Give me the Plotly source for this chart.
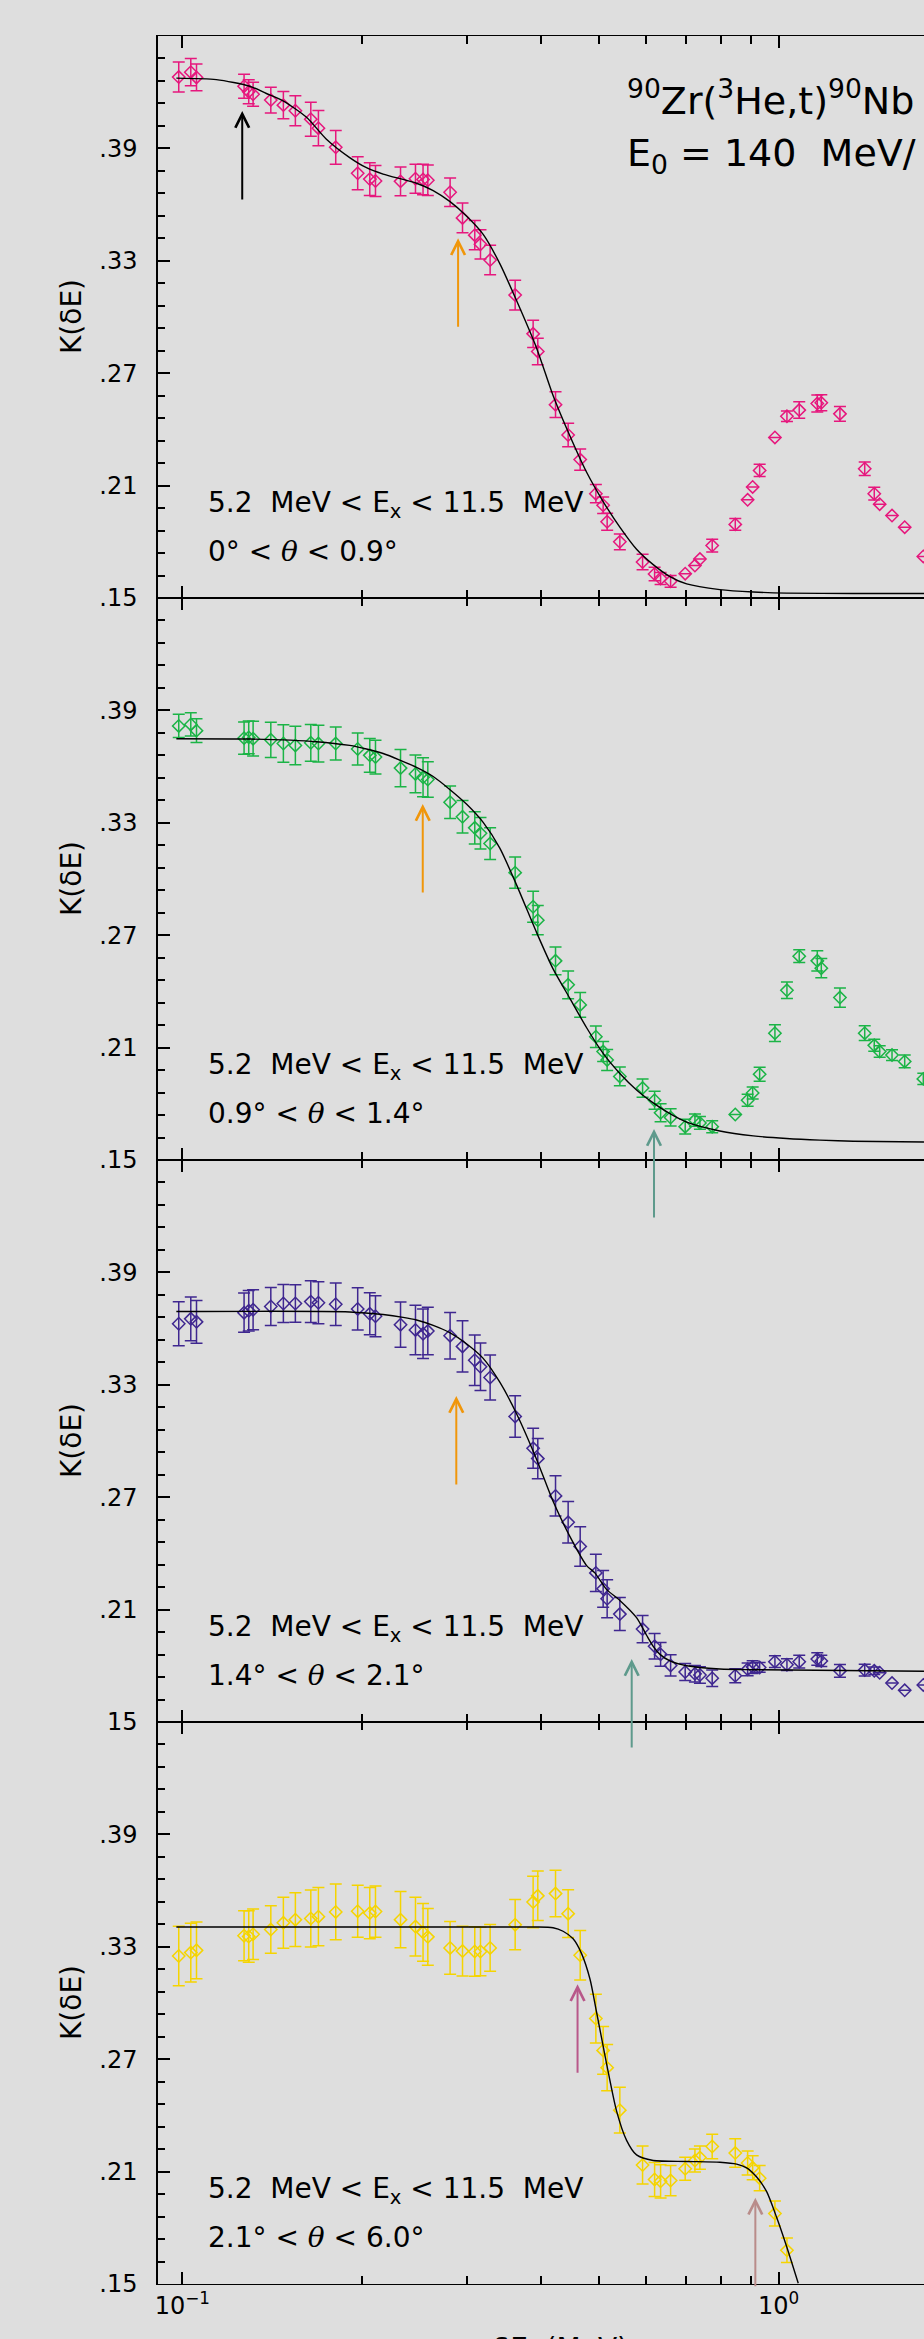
import numpy as np
import plotly.graph_objects as go

# ---------------- data ----------------
dE = [0.0986, 0.1033, 0.1056, 0.1269, 0.1292, 0.1314, 0.1407, 0.1477, 0.1547, 0.1642,
      0.1691, 0.1808, 0.1968, 0.2062, 0.2108, 0.2322, 0.2460, 0.2533, 0.2580, 0.2812,
      0.2950, 0.3093, 0.3162, 0.3282, 0.3615, 0.3875, 0.3945, 0.4225, 0.4436, 0.4647,
      0.4937, 0.5078, 0.5157, 0.5416, 0.5913, 0.6194, 0.6339, 0.6589, 0.6971, 0.7238,
      0.7379, 0.7737, 0.8458, 0.8872, 0.9046, 0.9293, 0.9858, 1.0326, 1.0828, 1.1610,
      1.1791, 1.2671, 1.3944, 1.4467, 1.4773, 1.5494, 1.6272, 1.7485]

K1 = [0.4281, 0.4307, 0.4279, 0.4232, 0.4203, 0.4189, 0.4158, 0.4131, 0.4101, 0.4056,
      0.4008, 0.3906, 0.3767, 0.3736, 0.3726, 0.3724, 0.3738, 0.3734, 0.3730, 0.3666,
      0.3529, 0.3437, 0.3388, 0.3304, 0.3117, 0.2910, 0.2816, 0.2532, 0.2370, 0.2239,
      0.2057, 0.1995, 0.1907, 0.1800, 0.1692, 0.1628, 0.1604, 0.1589, 0.1630, 0.1673,
      0.1708, 0.1780, 0.1893, 0.2024, 0.2093, 0.2181, 0.2357, 0.2470, 0.2503, 0.2538,
      0.2542, 0.2483, 0.2190, 0.2057, 0.2001, 0.1940, 0.1878, 0.1722]
E1 = [0.0080, 0.0073, 0.0071, 0.0064, 0.0064, 0.0064, 0.0069, 0.0073, 0.0080, 0.0091,
      0.0094, 0.0090, 0.0088, 0.0087, 0.0083, 0.0077, 0.0078, 0.0082, 0.0081, 0.0076,
      0.0079, 0.0078, 0.0078, 0.0079, 0.0079, 0.0073, 0.0071, 0.0069, 0.0063, 0.0057,
      0.0049, 0.0044, 0.0046, 0.0042, 0.0041, 0.0036, 0.0032, 0.0031, None, None,
      None, 0.0034, 0.0031, None, None, 0.0033, None, 0.0028, 0.0044, 0.0045,
      0.0043, 0.0039, 0.0036, 0.0034, None, None, None, None]

K2 = [0.3817, 0.3825, 0.3792, 0.3752, 0.3756, 0.3749, 0.3743, 0.3723, 0.3713, 0.3727,
      0.3723, 0.3723, 0.3694, 0.3660, 0.3651, 0.3592, 0.3561, 0.3543, 0.3531, 0.3410,
      0.3332, 0.3273, 0.3244, 0.3189, 0.3034, 0.2852, 0.2780, 0.2563, 0.2435, 0.2328,
      0.2158, 0.2079, 0.2034, 0.1946, 0.1884, 0.1819, 0.1752, 0.1727, 0.1678, 0.1713,
      0.1698, 0.1678, 0.1743, 0.1819, 0.1858, 0.1958, 0.2177, 0.2406, 0.2588, 0.2563,
      0.2524, 0.2367, 0.2177, 0.2112, 0.2079, 0.2060, 0.2026, 0.1933]
E2 = [0.0062, 0.0062, 0.0063, 0.0086, 0.0088, 0.0093, 0.0094, 0.0100, 0.0103, 0.0098,
      0.0098, 0.0088, 0.0086, 0.0090, 0.0090, 0.0099, 0.0101, 0.0104, 0.0095, 0.0087,
      0.0087, 0.0086, 0.0084, 0.0085, 0.0083, 0.0083, 0.0078, 0.0074, 0.0074, 0.0066,
      0.0057, 0.0053, 0.0056, 0.0050, 0.0049, 0.0048, 0.0048, 0.0046, 0.0039, 0.0033,
      0.0034, 0.0032, None, 0.0032, 0.0032, 0.0037, 0.0045, 0.0044, 0.0034, 0.0054,
      0.0051, 0.0051, 0.0039, 0.0032, 0.0031, 0.0029, 0.0034, 0.0030]

K3 = [0.3626, 0.3652, 0.3636, 0.3685, 0.3695, 0.3701, 0.3718, 0.3734, 0.3734, 0.3744,
      0.3738, 0.3730, 0.3705, 0.3679, 0.3666, 0.3621, 0.3593, 0.3572, 0.3587, 0.3562,
      0.3505, 0.3431, 0.3396, 0.3339, 0.3131, 0.2961, 0.2906, 0.2707, 0.2566, 0.2437,
      0.2296, 0.2211, 0.2158, 0.2076, 0.1996, 0.1904, 0.1861, 0.1802, 0.1767, 0.1757,
      0.1751, 0.1734, 0.1747, 0.1781, 0.1793, 0.1791, 0.1822, 0.1806, 0.1822, 0.1836,
      0.1826, 0.1773, 0.1777, 0.1773, 0.1763, 0.1708, 0.1669, 0.1698]
E3 = [0.0117, 0.0117, 0.0114, 0.0105, 0.0108, 0.0107, 0.0102, 0.0101, 0.0100, 0.0111,
      0.0112, 0.0113, 0.0113, 0.0112, 0.0110, 0.0121, 0.0132, 0.0132, 0.0127, 0.0124,
      0.0137, 0.0135, 0.0127, 0.0120, 0.0111, 0.0107, 0.0108, 0.0108, 0.0111, 0.0105,
      0.0100, 0.0098, 0.0102, 0.0088, 0.0073, 0.0068, 0.0064, 0.0057, 0.0045, 0.0044,
      0.0044, 0.0044, 0.0037, 0.0034, 0.0034, 0.0026, 0.0031, 0.0031, 0.0034, 0.0033,
      0.0030, 0.0034, 0.0031, 0.0020, None, None, None, None]

K4 = [0.3251, 0.3269, 0.3281, 0.3359, 0.3355, 0.3367, 0.3392, 0.3428, 0.3445, 0.3451,
      0.3461, 0.3486, 0.3490, 0.3480, 0.3488, 0.3445, 0.3408, 0.3377, 0.3353, 0.3294,
      0.3277, 0.3275, 0.3275, 0.3294, 0.3418, 0.3539, 0.3572, 0.3584, 0.3477, 0.3255,
      0.2917, 0.2747, 0.2655, 0.2428, 0.2135, 0.2058, 0.2048, 0.2052, 0.2115, 0.2159,
      0.2175, 0.2234, 0.2199, 0.2146, 0.2120, 0.2065, 0.1876, 0.1680]
E4 = [0.0159, 0.0157, 0.0152, 0.0134, 0.0137, 0.0135, 0.0127, 0.0136, 0.0143, 0.0152,
      0.0156, 0.0149, 0.0139, 0.0137, 0.0137, 0.0150, 0.0157, 0.0154, 0.0152, 0.0141,
      0.0133, 0.0132, 0.0130, 0.0125, 0.0134, 0.0137, 0.0132, 0.0124, 0.0128, 0.0132,
      0.0130, 0.0127, 0.0124, 0.0122, 0.0101, 0.0091, 0.0089, 0.0081, 0.0061, 0.0061,
      0.0062, 0.0066, 0.0076, 0.0064, 0.0064, 0.0067, 0.0067, 0.0065]

# fitted curves
fit1_x = [0.0977, 0.114, 0.1297, 0.1383, 0.1475, 0.1615, 0.1744, 0.1908, 0.2036, 0.2171,
          0.2470, 0.2634, 0.2808, 0.2995, 0.3195, 0.3407, 0.3633, 0.3926, 0.4185, 0.4465,
          0.4764, 0.5078, 0.5416, 0.5777, 0.6161, 0.6572, 0.7010, 0.7969, 0.9066, 1.0313,
          1.3341, 1.753]
fit1_y = [0.4275, 0.4267, 0.4232, 0.4193, 0.4154, 0.4066, 0.3949, 0.3851, 0.3797, 0.3763,
          0.3714, 0.3675, 0.3617, 0.3539, 0.3441, 0.3285, 0.3089, 0.2835, 0.2581, 0.2366,
          0.2171, 0.2015, 0.1878, 0.1760, 0.1678, 0.1614, 0.1575, 0.1545, 0.1532, 0.1526,
          0.1524, 0.1524]
fit2_x = [0.0977, 0.1297, 0.1678, 0.1908, 0.2036, 0.2171, 0.2315, 0.2470, 0.2634, 0.2808,
          0.2995, 0.3195, 0.3407, 0.3633, 0.3926, 0.4185, 0.4465, 0.4764, 0.5078, 0.5416,
          0.5777, 0.6161, 0.6572, 0.7010, 0.7969, 0.9066, 1.0313, 1.173, 1.3341, 1.753]
fit2_y = [0.3749, 0.3747, 0.3733, 0.3713, 0.3694, 0.3670, 0.3635, 0.3596, 0.3547, 0.3478,
          0.3400, 0.3302, 0.3165, 0.2970, 0.2715, 0.2520, 0.2363, 0.2206, 0.2069, 0.1962,
          0.1874, 0.1805, 0.1747, 0.1702, 0.1655, 0.1629, 0.1615, 0.1606, 0.1600, 0.1596]
fit3_x = [0.0977, 0.1908, 0.2171, 0.2345, 0.2470, 0.2634, 0.2808, 0.2995, 0.3195, 0.3407,
          0.3633, 0.3926, 0.4185, 0.4465, 0.4764, 0.4918, 0.5144, 0.5416, 0.5777, 0.6005,
          0.6161, 0.6324, 0.6572, 0.7010, 0.7969, 0.9066, 1.753]
fit3_y = [0.3691, 0.3689, 0.3675, 0.3660, 0.3646, 0.3617, 0.3578, 0.3519, 0.3441, 0.3314,
          0.3147, 0.2903, 0.2678, 0.2491, 0.2335, 0.2296, 0.2208, 0.2149, 0.2057, 0.1963,
          0.1904, 0.1861, 0.1826, 0.1800, 0.1783, 0.1779, 0.1771]
fit4_x = [0.0977, 0.3875, 0.4185, 0.4350, 0.4522, 0.4670, 0.4826, 0.4950, 0.5144, 0.5347,
          0.5559, 0.5777, 0.6161, 0.7010, 0.7969, 0.8503, 0.8838, 0.9187, 0.9548, 0.9922,
          1.0313, 1.0787]
fit4_y = [0.3406, 0.3406, 0.3402, 0.3383, 0.3343, 0.3265, 0.3128, 0.2952, 0.2678, 0.2424,
          0.2267, 0.2189, 0.2159, 0.2154, 0.2150, 0.2140, 0.2120, 0.2071, 0.1993, 0.1856,
          0.1700, 0.1504]

panel_K = [K1, K2, K3, K4]
panel_E = [E1, E2, E3, E4]
panel_fit_x = [fit1_x, fit2_x, fit3_x, fit4_x]
panel_fit_y = [fit1_y, fit2_y, fit3_y, fit4_y]
panel_colors = ["#e6177d", "#1bb446", "#3f2790", "#f5d400"]
panel_theta = ["0° &lt; {t} &lt; 0.9°", "0.9° &lt; {t} &lt; 1.4°",
               "1.4° &lt; {t} &lt; 2.1°", "2.1° &lt; {t} &lt; 6.0°"]
ytick_vals = [0.15, 0.21, 0.27, 0.33, 0.39]
ytick_text = [[".15", ".21", ".27", ".33", ".39"],
              [".15", ".21", ".27", ".33", ".39"],
              ["15", ".21", ".27", ".33", ".39"],
              [".15", ".21", ".27", ".33", ".39"]]

# arrows: panel index, dE position, K value at the tip, colour
arrow_panel = [0, 0, 1, 1, 2, 2, 3, 3]
arrow_x = [0.126, 0.290, 0.253, 0.618, 0.288, 0.567, 0.460, 0.914]
arrow_tip = [0.410, 0.342, 0.340, 0.1665, 0.324, 0.1836, 0.310, 0.196]
arrow_color = ["#000000", "#f0960a", "#f0960a", "#5e9a8c", "#f0960a", "#5e9a8c",
               "#b8588a", "#b98c8a"]

# ---------------- figure ----------------
FONT = "DejaVu Sans"
BG = "#dedede"
W, H = 924, 2339
ML, MT, MB = 158, 36, 55
PW, PH = W - ML, H - MT - MB
xlo, xhi = -1.0409, 0.2438

fig = go.Figure()
layout = dict(
    width=W, height=H, margin=dict(l=ML, r=0, t=MT, b=MB, pad=0),
    paper_bgcolor=BG, plot_bgcolor=BG, showlegend=False,
    font=dict(family=FONT, color="black", size=24),
)

annotations = []
for k in range(4):
    sfx = "" if k == 0 else str(k + 1)
    xa, ya = "x" + sfx, "y" + sfx
    col = panel_colors[k]
    n = len(panel_K[k])
    fig.add_trace(go.Scatter(
        x=dE[:n], y=panel_K[k], mode="markers", xaxis=xa, yaxis=ya,
        marker=dict(symbol="diamond-open", size=9.5, color=col, line=dict(width=1.5, color=col)),
        error_y=dict(type="data", array=panel_E[k], visible=True, color=col,
                     thickness=1.5, width=6),
    ))
    fig.add_trace(go.Scatter(
        x=panel_fit_x[k], y=panel_fit_y[k], mode="lines", xaxis=xa, yaxis=ya,
        line=dict(color="black", width=1.4, shape="spline", smoothing=0.7),
    ))
    dom = [0.75 - 0.25 * k, 1.0 - 0.25 * k]
    layout["xaxis" + sfx] = dict(
        type="log", range=[xlo, xhi], domain=[0, 1], anchor=ya,
        showline=True, linecolor="black", linewidth=1.3, mirror="allticks",
        ticks="inside", tickvals=[0.1, 1], ticktext=["10<sup>−1</sup>", "10<sup>0</sup>"],
        ticklen=12, tickwidth=1.5, tickcolor="black",
        minor=dict(ticks="inside", tickmode="array",
                   tickvals=[0.2, 0.3, 0.4, 0.5, 0.6, 0.7, 0.8, 0.9],
                   ticklen=8, tickwidth=1.5, tickcolor="black"),
        showgrid=False, zeroline=False, showticklabels=(k == 3),
        tickfont=dict(family=FONT, size=24, color="black"),
    )
    layout["yaxis" + sfx] = dict(
        domain=dom, anchor=xa, range=[0.15, 0.45],
        showline=True, linecolor="black", linewidth=1.5, mirror=False,
        ticks="inside", tickvals=ytick_vals, ticktext=ytick_text[k],
        ticklen=12, tickwidth=1.5, tickcolor="black",
        minor=dict(ticks="inside", tickmode="linear", tick0=0.15, dtick=0.012,
                   ticklen=7, tickwidth=1.5, tickcolor="black"),
        showgrid=False, zeroline=False, ticklabelstandoff=14,
        tickfont=dict(family=FONT, size=24, color="black"),
    )
    # y axis title
    annotations.append(dict(
        text="K(δE)", xref="paper", yref=ya + " domain", x=(71 - ML) / PW, y=0.5,
        xanchor="center", yanchor="middle", textangle=-90, showarrow=False,
        font=dict(family=FONT, size=28, color="black"),
    ))
    # panel labels
    annotations.append(dict(
        text="5.2&nbsp; MeV &lt; E<sub>x</sub> &lt; 11.5&nbsp; MeV",
        xref="paper", yref=ya + " domain", x=(206 - ML) / PW, y=81 / 562,
        xanchor="left", yanchor="bottom", yshift=-8, showarrow=False,
        font=dict(family=FONT, size=28, color="black"),
    ))
    annotations.append(dict(
        text=panel_theta[k].format(t="<span style=\"font-family:'DejaVu Serif';font-style:italic\">θ</span>"),
        xref="paper", yref=ya + " domain", x=(206 - ML) / PW, y=36 / 562,
        xanchor="left", yanchor="bottom", yshift=-8, showarrow=False,
        font=dict(family=FONT, size=28, color="black"),
    ))

# arrows
for p, xv, tip, c in zip(arrow_panel, arrow_x, arrow_tip, arrow_color):
    sfx = "" if p == 0 else str(p + 1)
    annotations.append(dict(
        x=np.log10(xv), y=tip, xref="x" + sfx, yref="y" + sfx, text="",
        showarrow=True, ax=0, ay=90, arrowhead=5, arrowsize=1.35, arrowwidth=2,
        arrowcolor=c,
    ))

# reaction label (the right end of the second line is cut by the picture edge)
annotations.append(dict(
    text="<sup>90</sup>Zr(<sup>3</sup>He,t)<sup>90</sup>Nb", xref="paper", yref="y domain",
    x=(625 - ML) / PW, y=1 - 76.5 / 562, xanchor="left", yanchor="bottom", yshift=-12,
    showarrow=False, font=dict(family=FONT, size=38, color="black"),
))
annotations.append(dict(
    text="E<sub>0</sub> = 140&nbsp; MeV/", xref="paper", yref="y domain",
    x=(625 - ML) / PW, y=1 - 136 / 562, xanchor="left", yanchor="bottom", yshift=-10,
    showarrow=False, font=dict(family=FONT, size=38, color="black"),
))
# x axis title (mostly below the visible area)
annotations.append(dict(
    text="δE&nbsp; (MeV)", xref="paper", yref="paper", x=(560 - ML) / PW,
    y=-(2330 - 2284) / PH, xanchor="center", yanchor="top", showarrow=False,
    font=dict(family=FONT, size=28, color="black"),
))

layout["annotations"] = annotations
fig.update_layout(**layout)
fig.write_html("out.html")
